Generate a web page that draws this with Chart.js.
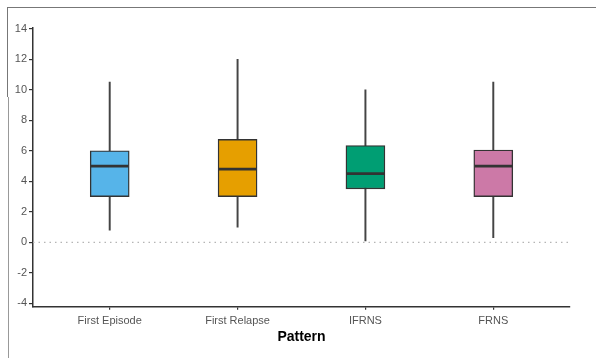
<!DOCTYPE html>
<html><head><meta charset="utf-8">
<script src="https://cdn.jsdelivr.net/npm/chart.js@4/dist/chart.umd.min.js"></script>
<style>
html,body{margin:0;padding:0;background:#fff;}
#wrap{position:relative;width:596px;height:358px;}
canvas{position:absolute;left:0;top:0;}
.ln{position:absolute;background:#777;}
</style></head><body>
<div id="wrap">
<canvas id="c" width="596" height="358"></canvas>
<div class="ln" style="left:7px;top:7px;width:589px;height:1px;"></div>
<div class="ln" style="left:7px;top:7px;width:1px;height:90px;"></div>
<div class="ln" style="left:8px;top:97px;width:1px;height:261px;background:#999;"></div>
</div>
<script>
const categories = ['First Episode','First Relapse','IFRNS','FRNS'];
const whiskerLow  = [0.8, 1.0, 0.1, 0.3];
const q1          = [3.0, 3.0, 3.5, 3.0];
const median      = [5.0, 4.8, 4.5, 5.0];
const q3          = [6.0, 6.75, 6.35, 6.05];
const whiskerHigh = [10.5, 12.0, 10.0, 10.5];
const colors = ['#56B4E9','#E69F00','#009E73','#CC79A7'];
const yTicks = [-4,-2,0,2,4,6,8,10,12,14];

const idx = categories.map((_, i) => i);
const font = {family: "'Liberation Sans', Arial, sans-serif", size: 11};

new Chart(document.getElementById('c'), {
  type: 'bar',
  data: {
    datasets: [
      {
        type: 'line', order: 4,
        data: [{x: -0.6, y: 0}, {x: 3.6, y: 0}],
        borderColor: '#b5b5b5', borderWidth: 1.2, borderDash: [1.5, 4],
        pointRadius: 0, fill: false
      },
      {
        order: 3, grouped: false,
        data: idx.map(i => ({x: i, y: [whiskerLow[i], whiskerHigh[i]]})),
        backgroundColor: '#444', borderWidth: 0, barThickness: 1.3
      },
      {
        order: 2, grouped: false,
        data: idx.map(i => ({x: i, y: [q1[i], q3[i]]})),
        backgroundColor: colors, borderColor: '#333', borderWidth: 1.4,
        borderSkipped: false, barThickness: 39
      },
      {
        type: 'scatter', order: 1,
        data: idx.map(i => ({x: i, y: median[i]})),
        pointStyle: 'line', pointRadius: 18.8, borderColor: '#333',
        borderWidth: 2.8, pointHoverRadius: 18.8
      }
    ]
  },
  options: {
    responsive: false, animation: false,
    layout: {padding: {left: 0, right: 26, top: 28, bottom: 12}},
    plugins: {legend: {display: false}, tooltip: {enabled: false}},
    scales: {
      x: {
        type: 'linear', min: -0.6, max: 3.6, offset: false,
        afterBuildTicks: s => { s.ticks = idx.map(v => ({value: v})); },
        afterFit: s => { s.height = 39.3; },
        ticks: {callback: v => categories[v], color: '#555', font: font, padding: 5, maxRotation: 0, autoSkip: false},
        grid: {display: true, offset: false, drawOnChartArea: false, drawTicks: true, tickLength: 3, color: '#333', lineWidth: 1.2},
        border: {display: true, color: '#333', width: 1.5},
        title: {display: true, text: 'Pattern', color: '#000', font: {family: font.family, size: 14, weight: 'bold'}, padding: {top: 2, bottom: 0}}
      },
      y: {
        min: -4.22, max: 14.05,
        afterBuildTicks: s => { s.ticks = yTicks.map(v => ({value: v})); },
        afterFit: s => { s.width = 33; },
        ticks: {color: '#555', font: font, padding: 2},
        grid: {display: true, offset: false, drawOnChartArea: false, drawTicks: true, tickLength: 4, color: '#333', lineWidth: 1.2},
        border: {display: true, color: '#333', width: 1.5}
      }
    }
  }
});
</script>
</body></html>
